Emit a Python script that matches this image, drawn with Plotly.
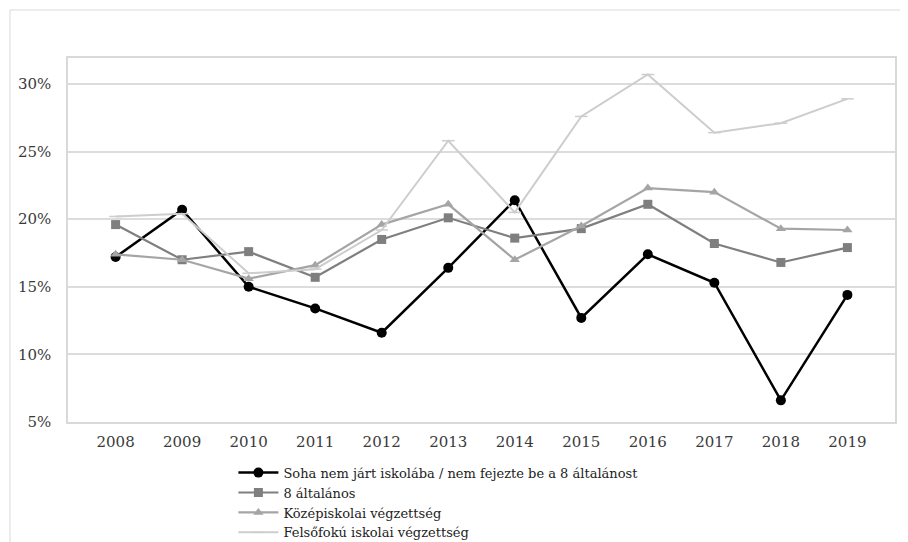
import plotly.graph_objects as go

years = ["2008", "2009", "2010", "2011", "2012", "2013", "2014", "2015", "2016", "2017", "2018", "2019"]
soha = [17.2, 20.7, 15.0, 13.4, 11.6, 16.4, 21.4, 12.7, 17.4, 15.3, 6.6, 14.4]
altalanos8 = [19.6, 17.0, 17.6, 15.7, 18.5, 20.1, 18.6, 19.3, 21.1, 18.2, 16.8, 17.9]
kozepiskolai = [17.4, 17.0, 15.6, 16.6, 19.6, 21.1, 17.0, 19.5, 22.3, 22.0, 19.3, 19.2]
felsofoku = [20.2, 20.4, 16.0, 16.3, 19.2, 25.8, 20.5, 27.6, 30.7, 26.4, 27.1, 28.9]

names = [
    "Soha nem járt iskolába / nem fejezte be a 8 általánost",
    "8 általános",
    "Középiskolai végzettség",
    "Felsőfokú iskolai végzettség",
]
y_ticks = [5, 10, 15, 20, 25, 30]
y_labels = [f"{v}%" for v in y_ticks]

fig = go.Figure()
fig.add_trace(go.Scatter(x=years, y=soha, name=names[0], mode="lines+markers",
                         line=dict(color="#000000", width=2.5),
                         marker=dict(symbol="circle", size=10, color="#000000")))
fig.add_trace(go.Scatter(x=years, y=altalanos8, name=names[1], mode="lines+markers",
                         line=dict(color="#7f7f7f", width=2.2),
                         marker=dict(symbol="square", size=9, color="#7f7f7f")))
fig.add_trace(go.Scatter(x=years, y=kozepiskolai, name=names[2], mode="lines+markers",
                         line=dict(color="#a5a5a5", width=2.2),
                         marker=dict(symbol="triangle-up", size=9, color="#a5a5a5")))
fig.add_trace(go.Scatter(x=years, y=felsofoku, name=names[3], mode="lines+markers",
                         line=dict(color="#cdcdcd", width=2),
                         marker=dict(symbol="line-ew-open", size=9,
                                     line=dict(color="#c4c4c4", width=1.5))))

serif = "DejaVu Serif, Liberation Serif, serif"

# page body adds an 8px offset, so the figure is 900x534 with margins shifted accordingly
fig.update_layout(
    width=900, height=534,
    margin=dict(l=60, r=13, t=50, b=120, autoexpand=False),
    paper_bgcolor="white", plot_bgcolor="white",
    font=dict(family=serif, size=15, color="#3a3a3a"),
    showlegend=True,
    legend=dict(x=0.2, y=-0.098, xanchor="left", yanchor="top",
                font=dict(family=serif, size=13, color="#222222"),
                bgcolor="rgba(0,0,0,0)", itemwidth=40, tracegroupgap=0),
    xaxis=dict(type="category", showgrid=False, showline=True, mirror=True,
               linecolor="#d9d9d9", linewidth=1.5, ticks="", ticklabelstandoff=5,
               tickfont=dict(family=serif, size=15, color="#3a3a3a")),
    yaxis=dict(range=[5, 31.92], tickvals=y_ticks, ticktext=y_labels,
               showgrid=True, gridcolor="#dcdcdc", gridwidth=1.5,
               showline=True, mirror=True, linecolor="#d9d9d9", linewidth=1.5,
               zeroline=False, ticks="", ticklabelstandoff=12,
               tickfont=dict(family=serif, size=15, color="#3a3a3a")),
    shapes=[dict(type="rect", xref="paper", yref="paper",
                 x0=(2 - 60) / 827, x1=(897 - 60) / 827,
                 y0=-0.6, y1=1 + (50 - 2) / 364,
                 line=dict(color="#d9d9d9", width=1), fillcolor="rgba(0,0,0,0)",
                 layer="below")],
)

fig.write_html("out.html")
